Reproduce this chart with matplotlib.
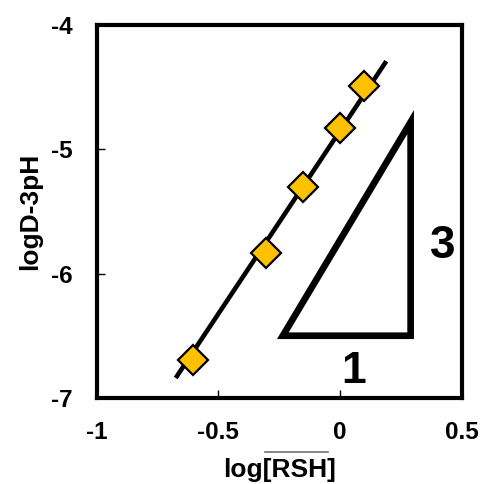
import numpy as np
import matplotlib
matplotlib.use("Agg")
import matplotlib.pyplot as plt
from matplotlib.patches import Polygon
from matplotlib.lines import Line2D

plt.rcParams["font.family"] = ["Liberation Sans", "DejaVu Sans"]
plt.rcParams["font.weight"] = "bold"

# data
log_rsh = [-0.605, -0.303, -0.153, -0.002, 0.097]
logd_3ph = [-6.695, -5.83, -5.30, -4.826, -4.488]

# straight line drawn in the chart (its two ends)
line_x = [-0.675, 0.19]
line_y = [-6.84, -4.29]

# slope triangle (1 : 3)
tri_x = [-0.235, 0.29, 0.29]
tri_y = [-6.5, -6.5, -4.78]

x_ticks = [-1, -0.5, 0, 0.5]
x_ticklabels = ["-1", "-0.5", "0", "0.5"]
y_ticks = [-7, -6, -5, -4]
y_ticklabels = ["-7", "-6", "-5", "-4"]

fig = plt.figure(figsize=(4.83, 4.84), dpi=100)
ax = fig.add_axes([0.200, 0.178, 0.756, 0.770])

ax.plot(line_x, line_y, color="black", lw=3.3, solid_capstyle="butt", zorder=2)

ax.plot(log_rsh, logd_3ph, linestyle="none", marker="D", markersize=15,
        markerfacecolor="#FFC000", markeredgecolor="black", markeredgewidth=1.6, zorder=3)

tri = Polygon(list(zip(tri_x, tri_y)), closed=True, fill=False, edgecolor="black",
              lw=4.8, joinstyle="miter")
ax.add_patch(tri)

ax.text(0.42, -5.78, "3", fontsize=33, fontweight="bold", ha="center", va="center")
ax.text(0.055, -6.79, "1", fontsize=32, fontweight="bold", ha="center", va="center")

ax.set_xlim(-1, 0.5)
ax.set_ylim(-7, -4)
ax.set_xticks(x_ticks)
ax.set_xticklabels(x_ticklabels)
ax.set_yticks(y_ticks)
ax.set_yticklabels(y_ticklabels)
ax.tick_params(direction="in", length=6, width=1, labelsize=17.5, pad=17)
ax.tick_params(axis="y", pad=17)
for sp in ax.spines.values():
    sp.set_linewidth(3)

ax.set_xlabel("log[RSH]", fontsize=19, fontweight="bold", labelpad=10)
ax.set_ylabel("logD-3pH", fontsize=19, fontweight="bold", labelpad=7)

# overline above "[RSH"
fig.add_artist(Line2D([265 / 483, 328 / 483], [1 - 452 / 484, 1 - 452 / 484],
                      color="#707070", lw=1.2))

fig.savefig("out.png", dpi=100)
